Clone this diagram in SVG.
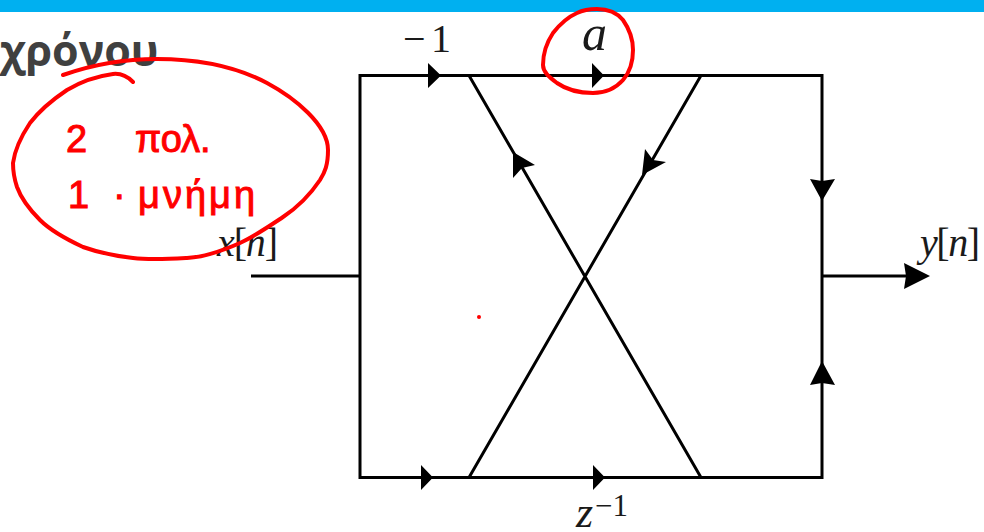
<svg xmlns="http://www.w3.org/2000/svg" width="984" height="532" viewBox="0 0 984 532">
<style>
.w{fill:none;stroke:#000;stroke-width:3}
.h{fill:#000}
.m{font-family:"Liberation Serif","DejaVu Serif",serif;fill:#1a1a1a;font-size:40px}
.i{font-style:italic}
.ink{fill:none;stroke:#f00;stroke-width:4;stroke-linecap:round;stroke-linejoin:round}
.note{font-family:"Liberation Sans",sans-serif;fill:#f00;stroke:#f00;stroke-width:1;font-size:38px}
</style>
<rect id="top-bar" width="984" height="12" fill="#00b0f0"/>
<text id="title" x="0" y="66" font-family="'Open Sans',sans-serif" font-weight="700" font-size="43" fill="#404040">χρόνου</text>
<g id="connectors">
<path class="w" d="M360 75.500H822V477.500H360ZM469 75.500L701 477.500M701 75.500L469 477.500M251 276H360M822 276H908"/>
<path class="h" d="M428 63L441 75.500L428 88ZM592 63L604 75.500L592 88ZM421 465L433 477.500L421 490ZM593 465L605 477.500L593 490ZM904 263L930 276L904 289L906 276ZM810 179L822 181L835 179L822 201ZM810 385L822 383L835 385L822 361ZM513 152L535 165L522 168L513 178ZM642 175L645 149L653 160L666 162Z"/>
</g>
<g id="label-input"><text class="m" x="217" y="256" textLength="61"><tspan class="i">x</tspan>[<tspan class="i">n</tspan>]</text></g>
<g id="label-output"><text class="m" x="920" y="256" textLength="60"><tspan class="i">y</tspan>[<tspan class="i">n</tspan>]</text></g>
<g id="label-minus-one"><text class="m" x="403" y="52" font-size="38" textLength="48">−1</text></g>
<g id="label-a"><text class="m i" x="582" y="50" style="font-size:50px">a</text></g>
<g id="label-delay"><text class="m i" x="576" y="527" style="font-size:44px">z</text><text class="m" x="595" y="516" style="font-size:31px">−1</text></g>
<g id="ink">
<path class="ink" d="M63 75C100 62 130 59 157 59C195 59 235 66 267 83C295 98 328 125 328 150C328 165 325 172 320 180C310 195 298 207 283 217C268 227 255 236 240 243C222 251 205 257 187 258C168 259 150 260 133 258C115 256 100 253 83 247C68 240 52 232 40 220C28 208 21 198 17 187C14 178 13 170 13 163C15 148 22 135 30 123C40 110 52 100 67 90C82 81 98 76 113 74C122 73 128 77 133 82"/>
<path class="ink" d="M597 9C610 9 618 14 623 20C630 30 633 40 633 50C633 62 630 72 623 80C615 89 605 93 593 93C580 93 567 90 557 83C549 77 543 72 543 65C543 53 547 42 553 33C560 24 568 17 577 13C583 10 590 9 597 9Z"/>
<circle cx="479" cy="317" r="2" fill="#f00"/>
<text class="note" y="152"><tspan x="66">2</tspan><tspan x="135">πολ.</tspan></text>
<text class="note" y="208"><tspan x="68">1</tspan><tspan x="113">·</tspan><tspan x="138" letter-spacing="3">μνήμη</tspan></text>
</g>
</svg>
